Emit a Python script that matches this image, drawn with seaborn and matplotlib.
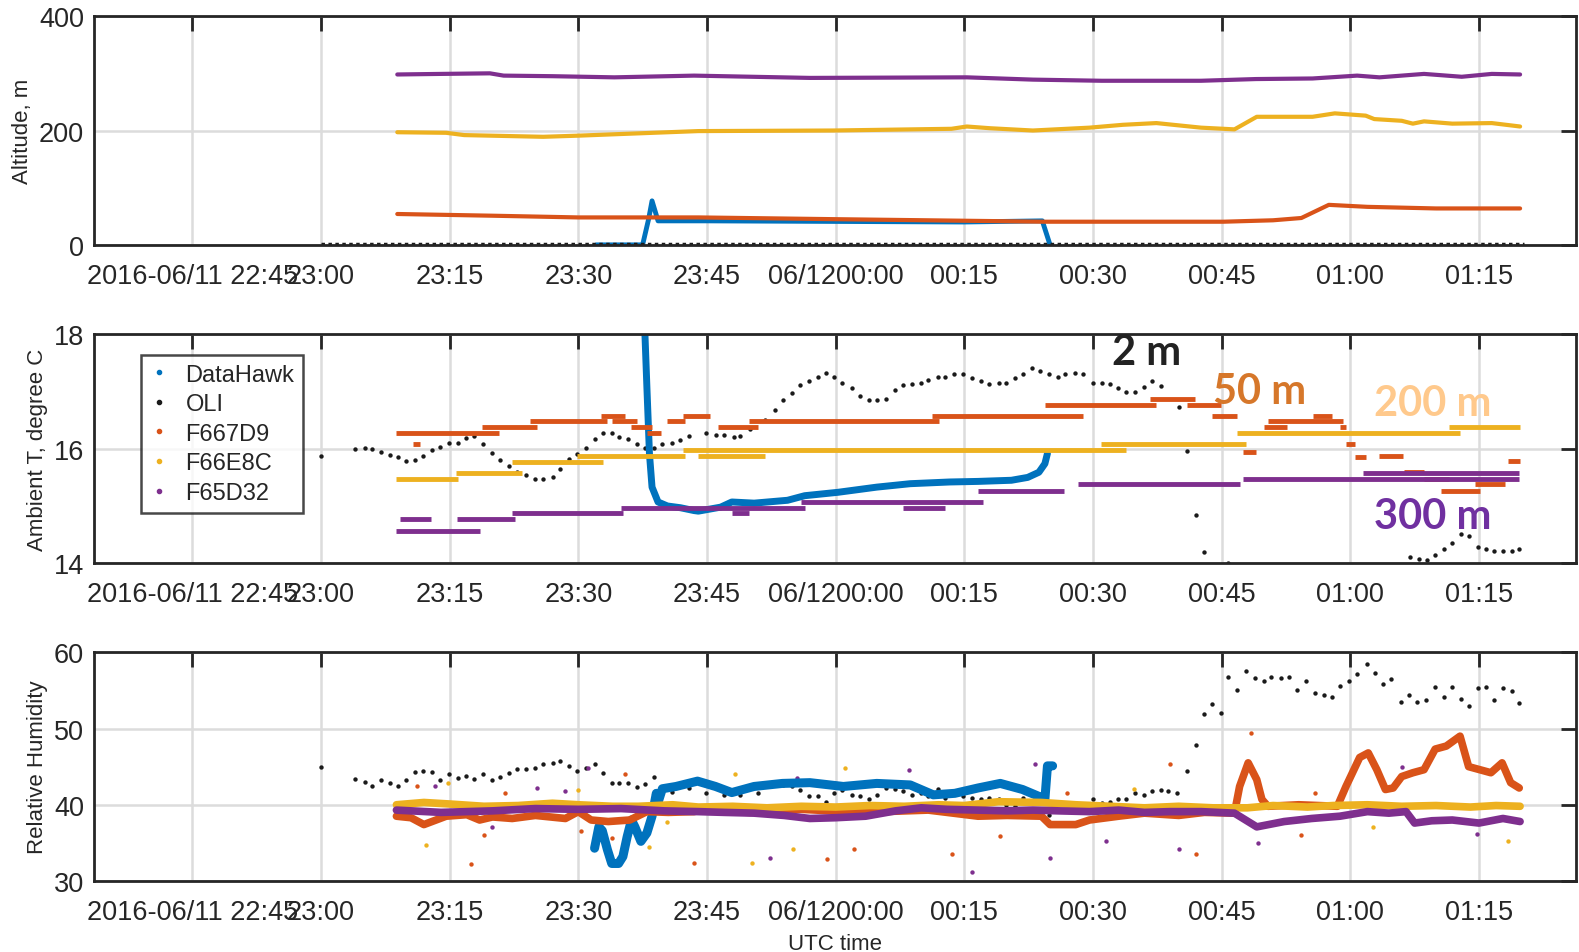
import matplotlib
matplotlib.use('Agg')
import matplotlib.pyplot as plt
from matplotlib.lines import Line2D
import seaborn as sns

# times are minutes after 2016-06-11 23:00 UTC
xticks = [-15, 0, 15, 30, 45, 60, 75, 90, 105, 120, 135]
xticklabels = ['2016-06/11 22:45', '23:00', '23:15', '23:30', '23:45', '06/1200:00',
               '00:15', '00:30', '00:45', '01:00', '01:15']

# ---- altitude ----
alt_t_d32 = [8.9, 14.0, 19.7, 21.3, 27.0, 34.2, 43.5, 57.0, 75.3, 83.0, 91.0, 102.6,
             109.0, 115.6, 120.8, 123.4, 128.6, 133.0, 136.5, 139.8]
alt_d32 = [298, 299, 300, 296, 295, 293, 296, 292, 293, 289, 287, 287, 290, 291, 296,
           293, 299, 294, 299, 298]
alt_t_e8c = [8.9, 14.6, 16.7, 25.9, 30.0, 35.2, 44.0, 59.7, 73.5, 75.3, 78.0, 83.0, 89.6,
             93.5, 97.4, 102.6, 106.5, 109.1, 115.6, 118.2, 121.8, 122.8, 126.0, 127.3,
             128.6, 131.9, 136.5, 139.8]
alt_e8c = [197, 196, 192, 189, 191, 194, 199, 200, 203, 207, 204, 200, 205, 210, 213, 205,
           202, 224, 224, 230, 226, 220, 217, 212, 216, 212, 213, 207]
alt_t_7d9 = [8.9, 20.0, 30.0, 44.0, 59.6, 84.4, 105.2, 111.0, 114.3, 117.5, 122.0, 130.0, 139.8]
alt_7d9 = [54, 51, 48, 48, 45, 40.5, 40.5, 43, 47, 70, 66.5, 63.7, 63.7]
alt_t_dh = [32.1, 37.5, 38.2, 38.6, 39.3, 45.0, 60.0, 75.0, 84.1, 85.0]
alt_dh = [0, 0, 45, 77, 42, 42, 41, 40, 42, 0]
alt_t_oli = [0, 140.3]
alt_oli = [2, 2]

# ---- temperature ----
oli_t = [0, 4.0, 5.1, 6.0, 7.0, 8.0, 9.0, 9.9, 11.0, 11.9, 12.9, 13.9, 14.9, 16.0, 16.9,
         17.9, 18.9, 19.9, 20.9, 21.9, 22.8, 23.9, 24.9, 25.9, 27.0, 27.9, 28.9, 29.9,
         30.9, 31.9, 32.9, 33.9, 34.8, 35.8, 36.9, 37.8, 38.8, 39.8, 40.9, 41.9, 42.9,
         44.9, 46.0, 47.0, 48.1, 48.9, 50.0, 51.8, 52.9, 53.9, 54.9, 55.9, 56.9, 57.9,
         58.9, 59.8, 60.8, 61.9, 62.9, 63.9, 64.8, 65.9, 66.9, 67.9, 68.9, 69.9, 70.8,
         71.9, 72.8, 73.8, 74.8, 75.9, 76.9, 77.9, 79.0, 79.9, 80.9, 81.9, 82.9, 83.8,
         84.9, 85.9, 86.8, 87.9, 88.9, 90.0, 91.0, 92.0, 92.9, 93.9, 94.9, 95.9, 96.9,
         97.9, 100.0, 101.0, 102.0, 102.9, 105.8, 127.0, 128.0, 129.0, 129.9, 130.9,
         131.9, 132.9, 133.9, 134.9, 135.8, 136.8, 137.8, 138.8, 139.7]
oli_T = [15.87, 16.0, 16.01, 16.0, 15.95, 15.9, 15.85, 15.78, 15.8, 15.87, 15.98, 16.03,
         16.11, 16.1, 16.19, 16.22, 16.08, 15.92, 15.8, 15.7, 15.59, 15.55, 15.48, 15.48,
         15.5, 15.65, 15.83, 15.91, 16.01, 16.17, 16.28, 16.27, 16.2, 16.17, 16.09, 16.02,
         16.02, 16.09, 16.1, 16.15, 16.22,
         16.27, 16.25, 16.24, 16.2, 16.22, 16.35, 16.51, 16.68, 16.86, 16.98, 17.12, 17.18,
         17.26, 17.32, 17.26, 17.15, 17.06, 16.93, 16.86, 16.86, 16.87, 17.03, 17.11,
         17.14, 17.15, 17.21, 17.26, 17.25, 17.31, 17.3, 17.23, 17.18, 17.14, 17.15,
         17.15, 17.24, 17.3, 17.41, 17.36, 17.3, 17.25, 17.31, 17.33, 17.3, 17.15, 17.15,
         17.14, 17.06, 17.0, 17.0, 17.08, 17.18, 17.09, 16.73, 15.96, 14.84, 14.19, 14.0,
         14.1, 14.08, 14.06, 14.14, 14.25, 14.35, 14.51, 14.47, 14.28, 14.25, 14.22,
         14.21, 14.22, 14.25]

dh_T_t = [37.7, 38.0, 38.3, 38.6, 39.3, 40.4, 41.9, 43.5, 44.0, 46.6, 47.9, 50.5, 54.4,
          56.4, 60.3, 64.8, 68.7, 73.3, 76.6, 80.5, 82.4, 83.7, 84.4, 84.7]
dh_T = [18.3, 17.08, 15.91, 15.33, 15.07, 15.0, 14.97, 14.92, 14.91, 14.98, 15.07, 15.05,
        15.1, 15.18, 15.24, 15.33, 15.39, 15.42, 15.43, 15.45, 15.5, 15.59, 15.74, 15.92]

# step segments: start, end, value
t7d9_start = [8.8, 10.7, 18.8, 24.4, 32.6, 33.9, 36.2, 38.0, 40.4, 42.2, 46.3, 49.9, 71.2,
              84.4, 96.7, 101.0, 103.9, 107.5, 110.0, 110.4, 115.6, 118.8, 119.5, 120.5,
              123.4, 126.3, 128.6, 130.6, 134.5, 138.4]
t7d9_end = [20.8, 11.5, 25.2, 33.4, 35.5, 36.8, 38.6, 39.6, 42.4, 45.3, 50.9, 72.0, 88.9,
            97.4, 101.9, 104.9, 106.8, 109.0, 112.6, 119.2, 117.9, 119.5, 120.5, 121.8,
            126.1, 128.6, 131.5, 135.1, 138.0, 139.8]
t7d9_val = [16.27, 16.08, 16.38, 16.48, 16.58, 16.48, 16.38, 16.27, 16.48, 16.58, 16.38,
            16.48, 16.58, 16.77, 16.87, 16.77, 16.58, 15.95, 16.38, 16.48, 16.58, 16.38,
            16.09, 15.85, 15.88, 15.59, 15.48, 15.27, 15.38, 15.78]
te8c_start = [8.8, 15.7, 22.3, 29.8, 42.2, 44.0, 90.9, 106.8, 131.5]
te8c_end = [16.0, 23.4, 32.9, 42.4, 93.8, 51.8, 107.8, 132.8, 139.8]
te8c_val = [15.48, 15.57, 15.77, 15.88, 15.98, 15.88, 16.08, 16.28, 16.38]
td32_start = [9.2, 15.9, 8.8, 22.3, 35.0, 47.9, 56.0, 67.8, 76.6, 88.3, 107.5, 121.5]
td32_end = [12.8, 22.6, 18.5, 35.2, 56.4, 49.9, 77.2, 72.7, 86.6, 107.1, 139.7, 139.7]
td32_val = [14.78, 14.78, 14.57, 14.88, 14.97, 14.88, 15.07, 14.97, 15.27, 15.38, 15.48, 15.57]

# ---- relative humidity ----
oli_rh_t = [0, 4.0, 5.1, 6.0, 7.0, 8.0, 9.0, 9.9, 11.0, 11.9, 12.9, 13.9, 14.9, 16.0, 16.9,
            17.9, 18.9, 19.9, 20.9, 21.9, 22.8, 23.9, 24.9, 25.9, 27.0, 27.9, 28.9, 29.9,
            30.9, 31.9, 32.9, 33.9, 34.8, 35.8, 36.9, 37.8, 38.8, 39.8, 40.9, 41.9, 42.9,
            44.9, 46.0, 47.0, 48.9, 50.9, 51.8, 52.9, 53.9, 54.9, 55.9, 56.9, 57.9, 58.9,
            59.8, 60.8, 61.9, 62.9, 63.9, 64.8, 65.9, 66.9, 67.9, 68.9, 69.9, 70.8, 71.9,
            72.8, 73.8, 74.8, 75.9, 76.9, 77.9, 79.0, 79.9, 80.9, 81.9, 82.9, 83.8, 84.9,
            85.9, 86.8, 87.9, 88.9, 90.0, 91.0, 92.0, 92.9, 93.9, 94.9, 95.9, 96.9, 97.9,
            98.8, 99.8, 101.0, 102.0, 102.9, 103.9, 104.9, 105.8, 106.8, 107.8, 108.9,
            109.9, 110.8, 111.9, 112.9, 113.8, 114.8, 115.9, 116.9, 117.9, 118.8, 119.8,
            120.8, 121.9, 122.9, 123.8, 124.8, 125.9, 126.8, 127.8, 128.8, 129.9, 130.9,
            131.9, 132.9, 133.9, 134.9, 135.8, 136.8, 137.8, 138.8, 139.7]
oli_rh = [44.9, 43.4, 43.0, 42.4, 43.2, 42.9, 42.5, 43.3, 44.3, 44.4, 44.3, 43.3, 44.1,
          43.5, 43.8, 43.4, 44.1, 43.3, 43.7, 44.2, 44.7, 44.7, 44.8, 45.4, 45.5, 45.7,
          45.1, 44.4, 44.8, 45.3, 44.2, 42.8, 42.8, 42.9, 42.3, 42.7, 43.7, 42.2, 41.7,
          42.6, 42.2,
          41.5, 42.4, 41.3, 41.3, 41.5, 42.9, 42.6, 42.6, 42.4, 42.0, 41.1, 41.2, 40.4,
          41.5, 42.0, 41.3, 41.1, 40.7, 41.3, 42.2, 42.1, 41.8, 41.3, 41.5, 41.1, 42.1,
          40.9, 41.8, 41.1, 40.9, 40.7, 40.9, 40.7, 40.0, 39.8, 40.9, 40.4, 40.2, 38.7,
          39.3, 40.2, 40.0, 39.6, 40.7, 40.2, 40.3, 40.7, 40.7, 41.5, 41.3, 41.8, 42.0,
          41.8, 41.6, 44.4, 47.9, 51.9, 53.2, 52.0, 56.7, 55.1, 57.5, 56.6, 56.2, 56.8,
          56.6, 56.8, 55.0, 56.2, 54.6, 54.4, 54.2, 55.6, 56.2, 57.2, 58.5, 57.3, 55.9,
          56.5, 53.5, 54.4, 53.5, 53.8, 55.5, 54.2, 55.4, 53.9, 53.0, 55.3, 55.4, 53.8,
          55.3, 54.9, 53.3]

dh_rh_t = [31.9, 32.4, 32.8, 33.4, 33.9, 34.7, 35.2, 35.7, 36.2, 36.6, 37.3, 38.0, 38.6,
           39.1, 39.3, 39.8, 41.4, 43.9, 46.0, 47.9, 50.5, 53.8, 57.0, 60.9, 64.8, 68.7,
           71.4, 73.9, 76.6, 79.2, 81.8, 83.7, 84.4, 84.7, 85.3]
dh_rh = [34.3, 37.1, 36.6, 34.1, 32.3, 32.3, 33.2, 35.8, 38.0, 37.1, 35.2, 36.3, 38.5,
         41.5, 40.3, 42.1, 42.4, 43.1, 42.4, 41.6, 42.4, 42.8, 42.9, 42.4, 42.8, 42.6,
         41.3, 41.5, 42.2, 42.8, 42.0, 41.1, 40.7, 45.1, 45.1]

rh_t_7d9 = [8.8, 10.5, 12.0, 14.6, 17.0, 18.5, 20.0, 22.3, 25.0, 28.5, 30.0, 31.5, 33.5,
            36.0, 38.0, 40.5, 43.5, 44.0, 50.0, 56.0, 63.0, 70.8, 76.6, 80.0, 84.0, 85.0,
            88.0, 89.6, 93.0, 96.0, 100.0, 103.0, 106.5, 107.1, 108.1, 109.1, 109.7, 110.4,
            114.0, 118.5, 119.5, 121.1, 122.1, 123.1, 124.1, 125.0, 126.0, 127.3, 128.6,
            129.9, 131.2, 132.8, 133.8, 135.1, 136.4, 137.7, 138.7, 139.7]
rh_7d9 = [38.5, 38.3, 37.4, 38.5, 38.7, 38.0, 38.4, 38.2, 38.6, 38.2, 39.1, 38.0, 37.8,
          38.0, 39.1, 39.0, 39.1, 39.3, 39.0, 39.4, 39.0, 39.3, 38.5, 38.6, 38.5, 37.4,
          37.4, 38.0, 38.5, 38.9, 38.6, 39.0, 38.9, 42.4, 45.5, 43.3, 40.7, 39.8, 40.0,
          39.8, 42.4, 46.2, 46.8, 44.6, 42.0, 42.2, 43.7, 44.2, 44.6, 47.3, 47.7, 49.0,
          45.0, 44.6, 44.2, 45.5, 42.9, 42.2]
rh_t_e8c = [8.8, 12, 15, 19, 23, 27, 30, 34, 37, 41, 44, 48, 52, 56, 60, 64, 68, 72, 75,
            79, 84, 88, 92, 96, 100, 104, 108, 111, 115, 118, 122, 126, 130, 134, 137, 139.8]
rh_e8c = [40.0, 40.3, 40.1, 39.8, 39.9, 40.2, 40.0, 39.8, 39.8, 40.0, 39.7, 39.8, 39.6,
          39.8, 39.7, 39.9, 39.8, 40.0, 39.9, 40.4, 40.3, 40.0, 39.8, 39.6, 39.8, 39.6,
          39.6, 39.9, 39.7, 39.9, 40.0, 39.8, 39.9, 39.7, 39.9, 39.8]
rh_t_d32 = [8.8, 14, 20, 25, 30, 35, 40, 44, 47, 50.5, 54, 57, 60, 63.5, 67, 70, 73, 76.6,
            80, 83, 86, 89.6, 93, 96, 99, 102.6, 106.5, 109.1, 112.3, 115.5, 118.8, 122,
            124.5, 126.5, 127.5, 129.5, 131.9, 135, 137.8, 139.8]
rh_d32 = [39.3, 39.0, 39.2, 39.5, 39.4, 39.5, 39.2, 39.1, 39.0, 38.9, 38.6, 38.2, 38.3,
          38.5, 39.2, 39.6, 39.4, 39.3, 39.2, 39.3, 39.2, 39.1, 39.3, 39.0, 39.1, 39.1,
          38.9, 37.1, 37.8, 38.2, 38.5, 39.1, 38.9, 39.1, 37.6, 37.9, 38.0, 37.6, 38.2, 37.8]

# stray readings off the main band
out_t_7d9 = [11.2, 17.5, 19.0, 21.5, 30.3, 33.9, 35.5, 43.5, 59.0, 62.2, 73.6, 79.2, 87.0,
             99.0, 102.0, 108.4, 114.3, 115.9]
out_7d9 = [42.5, 32.2, 36.0, 41.5, 36.6, 35.7, 44.0, 32.4, 32.9, 34.2, 33.6, 35.9, 41.5,
           45.3, 33.6, 49.4, 36.0, 41.5]
out_t_e8c = [12.3, 14.8, 30.0, 38.3, 40.4, 48.3, 50.2, 55.0, 61.1, 94.8, 122.7, 138.4]
out_e8c = [34.7, 42.8, 42.0, 34.4, 37.7, 44.0, 32.4, 34.2, 44.8, 42.1, 37.1, 35.3]
out_t_d32 = [13.3, 20.0, 25.2, 28.5, 31.1, 52.4, 55.5, 68.5, 75.9, 83.3, 85.0, 91.5,
             100.0, 109.3, 126.0, 134.8]
out_d32 = [42.4, 37.1, 42.2, 41.8, 44.8, 33.0, 43.5, 44.6, 31.2, 45.4, 33.0, 35.3, 34.2,
           35.0, 45.0, 36.2]

c_dh, c_7d9, c_e8c, c_d32, c_oli = '#0072BD', '#D95319', '#EDB120', '#7E2F8E', 'k'
names = ['DataHawk', 'OLI', 'F667D9', 'F66E8C', 'F65D32']

sns.set_theme(style='white')
plt.rcParams['font.family'] = ['Liberation Sans', 'DejaVu Sans']
ink = '#262626'

fig, axes = plt.subplots(3, 1, figsize=(15.79, 9.53), dpi=100)
ax1, ax2, ax3 = axes
ax1.set_position([0.0593, 0.742, 0.9387, 0.240])
ax2.set_position([0.0593, 0.408, 0.9387, 0.240])
ax3.set_position([0.0593, 0.0745, 0.9387, 0.240])

# altitude
sns.lineplot(x=alt_t_dh, y=alt_dh, color=c_dh, lw=3.5, sort=False, estimator=None, ax=ax1)
ax1.plot(alt_t_oli, alt_oli, color=c_oli, lw=2.5, ls=(0, (1, 1)))
sns.lineplot(x=alt_t_7d9, y=alt_7d9, color=c_7d9, lw=3, sort=False, estimator=None, ax=ax1)
sns.lineplot(x=alt_t_e8c, y=alt_e8c, color=c_e8c, lw=3, sort=False, estimator=None, ax=ax1)
sns.lineplot(x=alt_t_d32, y=alt_d32, color=c_d32, lw=3, sort=False, estimator=None, ax=ax1)
ax1.set_ylim(0, 400)
ax1.set_yticks([0, 200, 400])
ax1.set_ylabel('Altitude, m', fontsize=16)

# temperature
sns.lineplot(x=dh_T_t, y=dh_T, color=c_dh, lw=5, sort=False, estimator=None, ax=ax2)
sns.scatterplot(x=oli_t, y=oli_T, color=c_oli, s=10, linewidth=0, ax=ax2)
ax2.hlines(t7d9_val, t7d9_start, t7d9_end, color=c_7d9, lw=3.5)
ax2.hlines(te8c_val, te8c_start, te8c_end, color=c_e8c, lw=3.5)
ax2.hlines(td32_val, td32_start, td32_end, color=c_d32, lw=3.5)
ax2.set_ylim(14, 18)
ax2.set_yticks([14, 16, 18])
ax2.set_ylabel('Ambient T, degree C', fontsize=16)

handles = [Line2D([], [], marker='.', ls='none', color=c, markersize=6)
           for c in [c_dh, c_oli, c_7d9, c_e8c, c_d32]]
leg = ax2.legend(handles, names, loc='upper left', bbox_to_anchor=(0.032, 0.912),
                 borderaxespad=0, fontsize=17, frameon=True, fancybox=False,
                 handlelength=0.8, handletextpad=0.7, labelspacing=0.32, borderpad=0.38)
leg.get_frame().set_edgecolor('k')
leg.get_frame().set_linewidth(1.8)

for txt, col, x, y in [('2 m', '#222222', 0.687, 0.872), ('50 m', '#D6772A', 0.755, 0.70),
                       ('200 m', '#FFC98C', 0.864, 0.648), ('300 m', '#7030A0', 0.864, 0.154)]:
    ax2.text(x, y, txt, transform=ax2.transAxes, color=col, fontsize=30, fontweight='bold',
             family=['Lato', 'DejaVu Sans'], ha='left', va='baseline')

# humidity
sns.lineplot(x=dh_rh_t, y=dh_rh, color=c_dh, lw=6.5, sort=False, estimator=None, ax=ax3)
sns.scatterplot(x=oli_rh_t, y=oli_rh, color=c_oli, s=10, linewidth=0, ax=ax3)
for tt, vv, ot, ov, c in [(rh_t_7d9, rh_7d9, out_t_7d9, out_7d9, c_7d9),
                          (rh_t_e8c, rh_e8c, out_t_e8c, out_e8c, c_e8c),
                          (rh_t_d32, rh_d32, out_t_d32, out_d32, c_d32)]:
    sns.lineplot(x=tt, y=vv, color=c, lw=5.5, sort=False, estimator=None, ax=ax3)
    sns.scatterplot(x=ot, y=ov, color=c, s=10, linewidth=0, ax=ax3)
ax3.set_ylim(30, 60)
ax3.set_yticks([30, 40, 50, 60])
ax3.set_ylabel('Relative Humidity', fontsize=16)
ax3.set_xlabel('UTC time', fontsize=16, labelpad=6)

for ax in axes:
    ax.set_xlim(-26.5, 146.3)
    ax.set_xticks(xticks)
    ax.set_xticklabels(xticklabels)
    ax.grid(True, color='#DCDCDC', lw=1.8)
    ax.set_axisbelow(True)
    ax.tick_params(direction='in', length=11, width=2, colors=ink, labelsize=19.5,
                   top=True, right=True, labelcolor=ink)
    ax.tick_params(axis='x', pad=13)
    ax.tick_params(axis='y', pad=7)
    for s in ax.spines.values():
        s.set_visible(True)
        s.set_color(ink)
        s.set_linewidth(2)
    if ax is not ax3:
        ax.set_xlabel('')
    ax.yaxis.label.set_color(ink)
ax3.xaxis.label.set_color(ink)

fig.savefig('out.png', dpi=100)
